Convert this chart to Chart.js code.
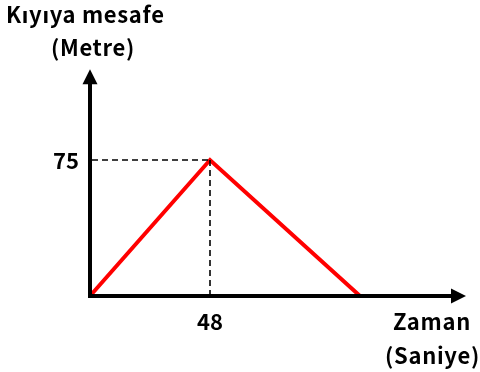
<!DOCTYPE html>
<html>
<head>
<meta charset="utf-8">
<script src="https://cdn.jsdelivr.net/npm/chart.js@4"></script>
<style>
html,body{margin:0;padding:0;background:#fff;}
#wrap{width:480px;height:372px;position:relative;}
</style>
</head>
<body>
<div id="wrap"><canvas id="c" width="480" height="372"></canvas></div>
<script>
const timeValues = [0, 48, 108];
const distanceValues = [0, 75, 0];
const xTickValues = [48];
const yTickValues = [75];
const yTitleLines = ['Kıyıya mesafe', '(Metre)'];
const xTitleLines = ['Zaman', '(Saniye)'];
const xAxisMax = 150;
const yAxisMax = 125;

const FONT = '"Noto Sans CJK JP", "Noto Sans", sans-serif';

const axesPlugin = {
  id: 'axesPlugin',
  afterDatasetsDraw(chart) {
    const {ctx, scales} = chart;
    const xs = scales.x, ys = scales.y;
    const x0 = xs.getPixelForValue(0), y0 = ys.getPixelForValue(0);
    ctx.save();
    // dashed guides
    ctx.strokeStyle = '#000';
    ctx.lineWidth = 1.6;
    ctx.setLineDash([6, 4]);
    const px = xs.getPixelForValue(xTickValues[0]);
    const py = ys.getPixelForValue(yTickValues[0]);
    ctx.beginPath();
    ctx.moveTo(x0 + 2, py); ctx.lineTo(px, py);
    ctx.moveTo(px, py); ctx.lineTo(px, y0 - 2);
    ctx.stroke();
    ctx.setLineDash([]);
    // axes
    ctx.lineWidth = 4;
    ctx.lineCap = 'butt';
    const xEnd = xs.getPixelForValue(xAxisMax) + 1;
    const yEnd = ys.getPixelForValue(yAxisMax);
    ctx.beginPath();
    ctx.moveTo(x0 - 2, y0); ctx.lineTo(xEnd - 12, y0);
    ctx.moveTo(x0, y0 + 2); ctx.lineTo(x0, yEnd + 12);
    ctx.stroke();
    ctx.fillStyle = '#000';
    ctx.beginPath();
    ctx.moveTo(xEnd, y0); ctx.lineTo(xEnd - 15, y0 - 7.5); ctx.lineTo(xEnd - 15, y0 + 7.5); ctx.closePath();
    ctx.fill();
    ctx.beginPath();
    ctx.moveTo(x0, yEnd); ctx.lineTo(x0 - 7.5, yEnd + 15); ctx.lineTo(x0 + 7.5, yEnd + 15); ctx.closePath();
    ctx.fill();
    // tick labels
    ctx.font = 'bold 22px ' + FONT;
    ctx.textBaseline = 'middle';
    ctx.textAlign = 'right';
    ctx.fillText(String(yTickValues[0]), x0 - 11, py + 1);
    ctx.textAlign = 'center';
    ctx.fillText(String(xTickValues[0]), px, y0 + 26);
    // axis titles
    ctx.letterSpacing = '0.7px';
    ctx.textAlign = 'left';
    ctx.fillText(yTitleLines[0], 6, 15);
    ctx.textAlign = 'center';
    ctx.fillText(yTitleLines[1], 93, 48);
    ctx.fillText(xTitleLines[0], 432, y0 + 26);
    ctx.textAlign = 'right';
    ctx.fillText(xTitleLines[1], 480, y0 + 60);
    ctx.restore();
  }
};

new Chart(document.getElementById('c'), {
  type: 'scatter',
  data: {
    datasets: [{
      data: timeValues.map((t, i) => ({x: t, y: distanceValues[i]})),
      showLine: true,
      borderColor: '#ff0000',
      borderWidth: 4,
      pointRadius: 0,
      tension: 0,
      clip: false
    }]
  },
  options: {
    responsive: false,
    animation: false,
    layout: {padding: {left: 90, right: 15, top: 69.33, bottom: 76}},
    plugins: {legend: {display: false}, tooltip: {enabled: false}},
    scales: {
      x: {type: 'linear', min: 0, max: xAxisMax, display: false},
      y: {type: 'linear', min: 0, max: yAxisMax, display: false}
    }
  },
  plugins: [axesPlugin]
});
</script>
</body>
</html>
